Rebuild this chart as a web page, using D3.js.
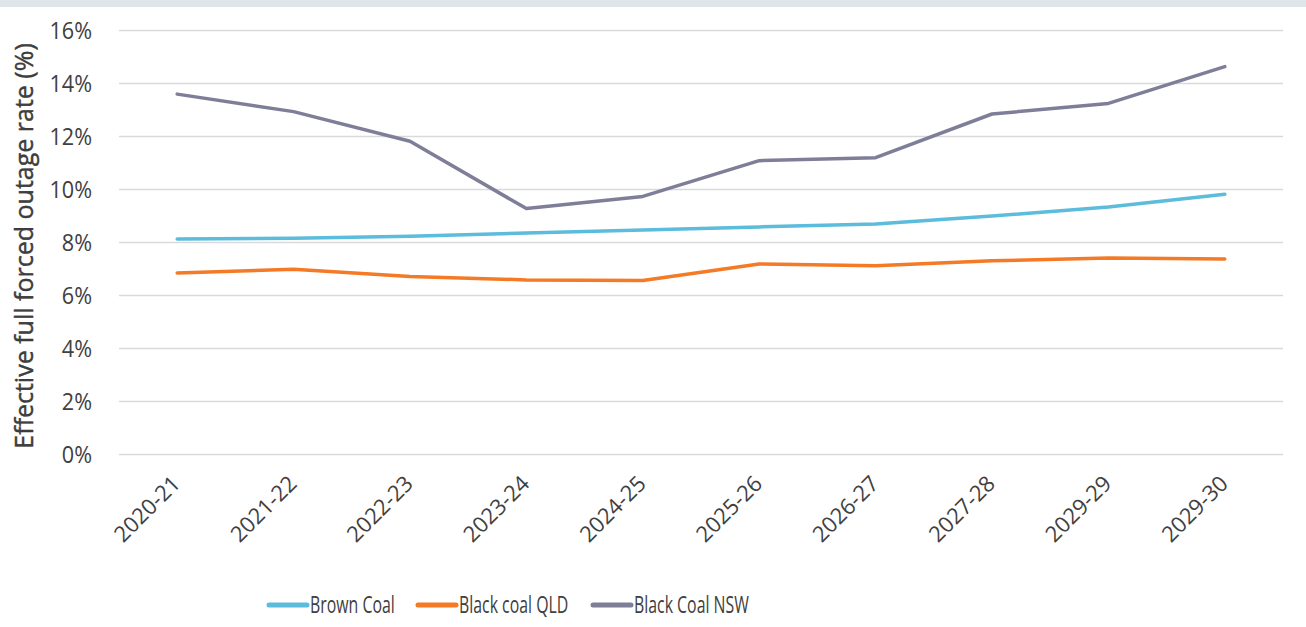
<!DOCTYPE html>
<html>
<head>
<meta charset="utf-8">
<script src="https://cdn.jsdelivr.net/npm/d3@7"></script>
<style>
  body { margin: 0; background: #fff; }
  svg text { font-family: "Open Sans", sans-serif; fill: #404040; }
</style>
</head>
<body>
<script>
// categories and series
const years = ["2020-21", "2021-22", "2022-23", "2023-24", "2024-25",
  "2025-26", "2026-27", "2027-28", "2029-29", "2029-30"];
const brownCoal = [8.11, 8.14, 8.22, 8.34, 8.45, 8.57, 8.68, 8.98, 9.32, 9.80];
const blackQLD = [6.83, 6.97, 6.70, 6.57, 6.55, 7.17, 7.10, 7.29, 7.40, 7.36];
const blackNSW = [13.58, 12.92, 11.80, 9.26, 9.72, 11.07, 11.18, 12.83, 13.23, 14.62];
const yTicks = [0, 2, 4, 6, 8, 10, 12, 14, 16];

const series = [
  {name: "Brown Coal", values: brownCoal, color: "#5bbcdc"},
  {name: "Black coal QLD", values: blackQLD, color: "#f47a26"},
  {name: "Black Coal NSW", values: blackNSW, color: "#7f7e98"}
];

const W = 1306, H = 627;
const margin = {top: 30, right: 23, bottom: 173, left: 119};
const tickSqueeze = 0.94;   // narrow look of the original font
const legendSqueeze = 0.69;

var svg = d3.select("body").append("svg")
  .attr("width", W)
  .attr("height", H);

// top band
svg.append("rect")
  .attr("x", 0).attr("y", 0)
  .attr("width", W).attr("height", 7)
  .attr("fill", "#dfe6e9");

var x = d3.scalePoint()
  .domain(years)
  .range([margin.left, W - margin.right])
  .padding(0.5);

var y = d3.scaleLinear()
  .domain([0, 16])
  .range([H - margin.bottom, margin.top]);

// gridlines + y labels
var yAxis = svg.append("g")
  .attr("transform", "translate(" + margin.left + ",0)")
  .call(d3.axisLeft(y)
    .tickValues(yTicks)
    .tickSize(-(W - margin.left - margin.right))
    .tickFormat(function(d) { return d + "%"; }));
yAxis.select(".domain").remove();
yAxis.selectAll("line").attr("stroke", "#d9d9d9").attr("stroke-width", 1.5);
yAxis.selectAll("text")
  .attr("font-size", 23)
  .style("font-family", "'Open Sans', sans-serif")
  .attr("fill", "#404040")
  .attr("x", -27 / tickSqueeze)
  .attr("dy", "0.35em")
  .attr("transform", "scale(" + tickSqueeze + ",1)");

// x labels
var xAxis = svg.append("g")
  .attr("transform", "translate(0," + (H - margin.bottom) + ")")
  .call(d3.axisBottom(x).tickSize(0));
xAxis.select(".domain").remove();
xAxis.selectAll("text")
  .attr("font-size", 22)
  .style("font-family", "'Open Sans', sans-serif")
  .attr("fill", "#404040")
  .attr("text-anchor", "end")
  .attr("y", 0)
  .attr("dy", 0)
  .attr("transform", "translate(4,31) rotate(-45)");

// y axis title
svg.append("text")
  .attr("transform", "translate(33,246) rotate(-90)")
  .attr("text-anchor", "middle")
  .attr("font-size", 25)
  .attr("fill", "#2e2e2e")
  .attr("stroke", "#2e2e2e")
  .attr("stroke-width", 0.4)
  .text("Effective full forced outage rate (%)");

// lines
var line = d3.line()
  .x(function(d, i) { return x(years[i]); })
  .y(function(d) { return y(d); });

svg.selectAll(".series")
  .data(series)
  .enter().append("path")
  .attr("class", "series")
  .attr("fill", "none")
  .attr("stroke", function(d) { return d.color; })
  .attr("stroke-width", 3.5)
  .attr("stroke-linecap", "round")
  .attr("stroke-linejoin", "round")
  .attr("d", function(d) { return line(d.values); });

// legend
var legendX = [269, 418, 593];
var lg = svg.selectAll(".legend")
  .data(series)
  .enter().append("g")
  .attr("class", "legend")
  .attr("transform", function(d, i) { return "translate(" + legendX[i] + ",605)"; });
lg.append("line")
  .attr("x1", 0).attr("x2", 38)
  .attr("stroke", function(d) { return d.color; })
  .attr("stroke-width", 5)
  .attr("stroke-linecap", "round");
lg.append("text")
  .attr("x", 41 / legendSqueeze)
  .attr("dy", "0.35em")
  .attr("font-size", 23)
  .attr("fill", "#333")
  .attr("transform", "scale(" + legendSqueeze + ",1)")
  .text(function(d) { return d.name; });
</script>
</body>
</html>
